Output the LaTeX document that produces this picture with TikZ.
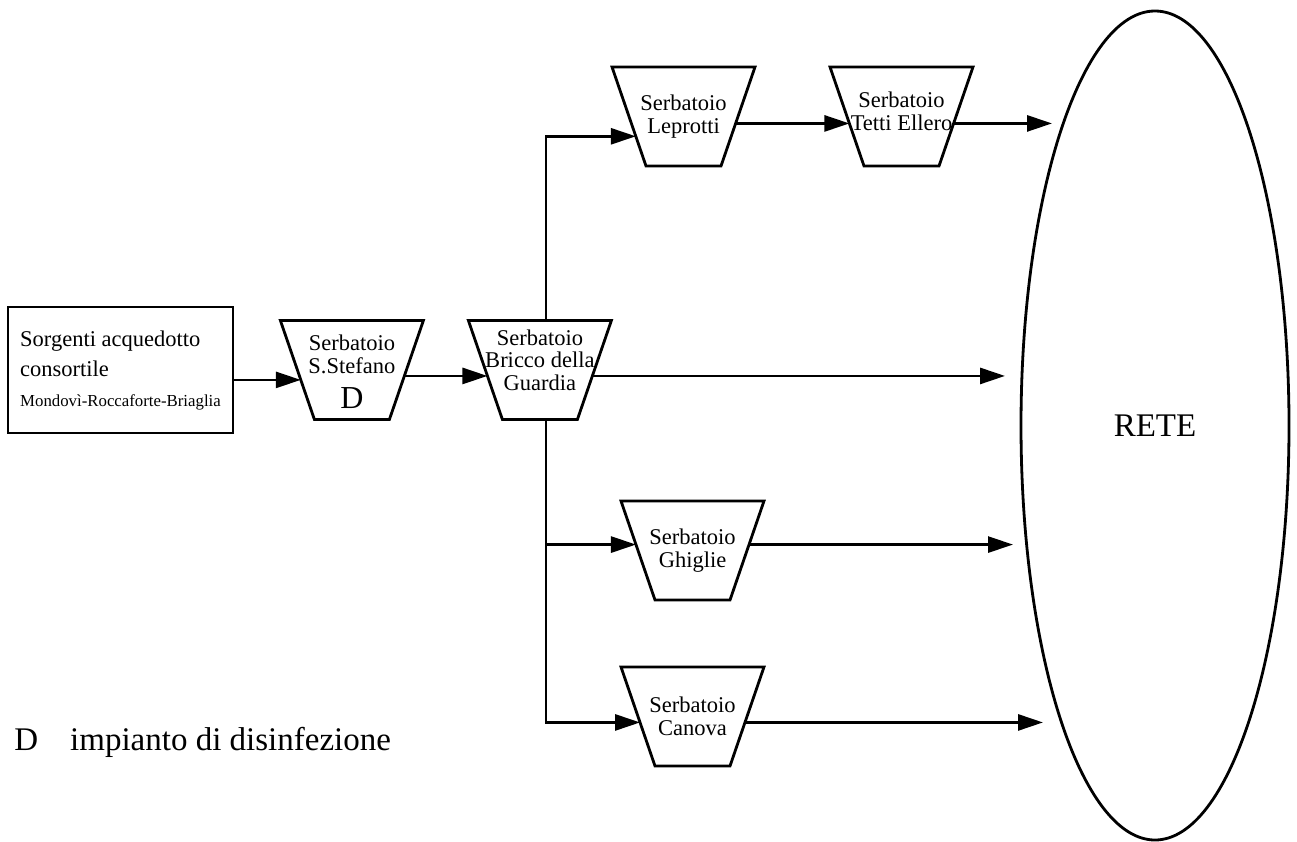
\documentclass[tikz,border=0pt]{standalone}
\usepackage{fontspec}
\setmainfont{Liberation Serif}
\usetikzlibrary{positioning,calc,shapes.geometric,arrows.meta}

\begin{document}
\begin{tikzpicture}[
    x=1pt, y=1pt,
    line width=2.8pt,
    srcbox/.style={
        draw, align=left, minimum width=225pt, minimum height=126pt,
        font=\fontsize{22.5}{30}\selectfont
    },
    tank/.style={minimum width=143pt, minimum height=99pt, inner sep=0pt, outer sep=0pt},
    tanktext/.style={align=center, inner sep=0pt, font=\fontsize{22.5}{22.5}\selectfont},
    arrow/.style={-{Triangle[length=25pt, width=16pt]}}
]
    \useasboundingbox (0,0) rectangle (1297,-841);

    \node[srcbox] (src) at (120.5,-370) {Sorgenti acquedotto\\consortile\\\fontsize{16.8}{30}\selectfont Mondovì-Roccaforte-Briaglia};
    \node[tank, right=46pt of src, label={[tanktext, yshift=-2pt]center:Serbatoio\\S.Stefano\\[13pt]\fontsize{32}{32}\selectfont D}] (stefano) {};
    \node[tank, right=45pt of stefano, label={[tanktext, yshift=10pt]center:Serbatoio\\Bricco della\\Guardia}] (bricco) {};
    \node[tank, label={[tanktext]center:Serbatoio\\Leprotti}] (leprotti) at (683.5,-116.5) {};
    \node[tank, right=75pt of leprotti, label={[tanktext, yshift=5pt]center:Serbatoio\\Tetti Ellero}] (tetti) {};
    \node[tank, label={[tanktext]center:Serbatoio\\Ghiglie}] (ghiglie) at (692.5,-550.5) {};
    \node[tank, below=67pt of ghiglie, label={[tanktext]center:Serbatoio\\Canova}] (canova) {};

    \node[draw, ellipse, minimum width=268pt, minimum height=829pt, inner sep=0pt,
        font=\fontsize{33}{33}\selectfont] (rete) at (1155,-425.5) {RETE};

    \node[anchor=base west, inner sep=0pt, font=\fontsize{33}{33}\selectfont] (legend) at (13,-750) {D\hspace{32pt}impianto di disinfezione};

    % tank outlines and the points where the pipes meet them
    \foreach \n/\tin/\tout in {stefano/0.60/0.56, bricco/0.56/0.56, leprotti/0.70/0.57,
        tetti/0.57/0.57, ghiglie/0.44/0.44, canova/0.56/0.56} {
        \draw (\n.north west) -- (\n.north east) -- ([xshift=-34pt]\n.south east)
            -- ([xshift=34pt]\n.south west) -- cycle;
        \coordinate (\n-in) at ($(\n.north west)!\tin!([xshift=34pt]\n.south west)$);
        \coordinate (\n-out) at ($(\n.north east)!\tout!([xshift=-34pt]\n.south east)$);
    }

    \coordinate (rise) at ([xshift=6pt]bricco.north);
    \coordinate (split) at ([xshift=6pt]bricco.south);
    \coordinate (rete1) at (1052,-123);
    \coordinate (rete2) at (1005,-376);
    \coordinate (rete3) at (1013,-545);
    \coordinate (rete4) at (1043,-722);

    \draw[arrow] (src.east |- stefano-in) -- (stefano-in);
    \draw[arrow] (stefano-out) -- (bricco-in);
    \draw[arrow] (bricco-out) -- (bricco-out -| rete2);
    \draw[arrow] (rise) |- (leprotti-in);
    \draw[arrow] (leprotti-out) -- (tetti-in);
    \draw[arrow] (tetti-out) -- (tetti-out -| rete1);
    \draw[arrow] (split |- ghiglie-in) -- (ghiglie-in);
    \draw[arrow] (ghiglie-out) -- (ghiglie-out -| rete3);
    \draw[arrow] (split) |- (canova-in);
    \draw[arrow] (canova-out) -- (canova-out -| rete4);
\end{tikzpicture}
\end{document}
